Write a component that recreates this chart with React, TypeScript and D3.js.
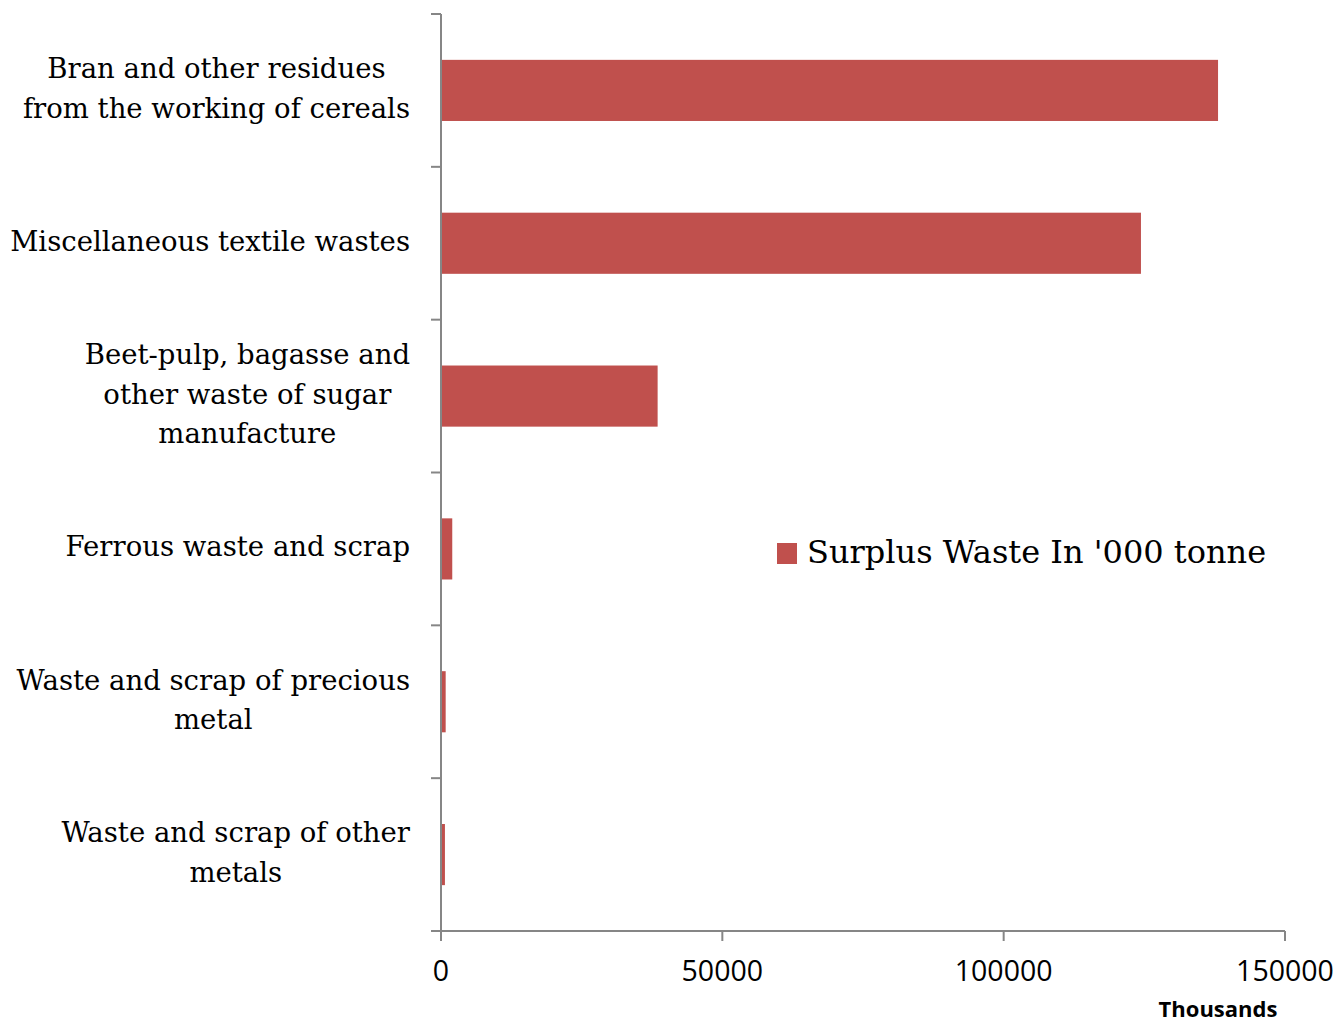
import React from "react";
import * as d3 from "d3";

const categories: string[][] = [
  ["Bran and other residues", "from the working of cereals"],
  ["Miscellaneous textile wastes"],
  ["Beet-pulp, bagasse and", "other waste of sugar", "manufacture"],
  ["Ferrous waste and scrap"],
  ["Waste and scrap of precious", "metal"],
  ["Waste and scrap of other", "metals"],
];
const values: number[] = [138100, 124400, 38500, 2000, 830, 700];
const xTicks: number[] = [0, 50000, 100000, 150000];
const seriesName = "Surplus Waste In '000 tonne";
const unitLabel = "Thousands";

const W = 1337;
const H = 1024;
const left = 441;
const right = 1285;
const top = 14;
const bottom = 931;
const barColor = "#C0504D";
const axisColor = "#868686";
const serif = "'DejaVu Serif', serif";
const sans = "'Open Sans', sans-serif";
const labelSize = 27.5;
const labelRight = 410;

// measure label widths so multi-line labels can be centred inside a right-aligned block
function measure(text: string, font: string): number {
  if (typeof document === "undefined") return text.length * labelSize * 0.5;
  const c = document.createElement("canvas");
  const ctx = c.getContext("2d");
  if (!ctx) return text.length * labelSize * 0.5;
  ctx.font = font;
  return ctx.measureText(text).width;
}

export default function App() {
  const x = d3.scaleLinear().domain([0, 150000]).range([left, right]);
  const ids = categories.map((_, i) => String(i));
  const y = d3
    .scaleBand<string>()
    .domain(ids)
    .range([top, bottom])
    .paddingInner(0.6)
    .paddingOuter(0.3);
  const step = y.step();
  const boundaries = d3.range(categories.length + 1).map((i) => top + i * step);
  const lineH = 39.5;
  const font = `${labelSize}px 'DejaVu Serif', serif`;

  return (
    <svg width={W} height={H} style={{ position: "absolute", left: 0, top: 0, background: "#fff" }}>
      {/* bars */}
      {values.map((v, i) => (
        <rect
          key={i}
          x={x(0)}
          y={y(ids[i])}
          width={x(v) - x(0)}
          height={y.bandwidth()}
          fill={barColor}
        />
      ))}
      {/* category axis */}
      <line x1={left} x2={left} y1={top} y2={bottom} stroke={axisColor} strokeWidth={2} />
      {boundaries.map((b, i) => (
        <line key={i} x1={left - 10} x2={left} y1={b} y2={b} stroke={axisColor} strokeWidth={2} />
      ))}
      {categories.map((lines, i) => {
        const cy = (y(ids[i]) as number) + y.bandwidth() / 2 - 2.5;
        const startY = cy - ((lines.length - 1) * lineH) / 2;
        const blockW = Math.max(...lines.map((l) => measure(l, font)));
        const cx = labelRight - blockW / 2;
        return (
          <text
            key={i}
            fontFamily={serif}
            fontSize={labelSize}
            fill="#000"
            textAnchor="middle"
            dominantBaseline="central"
          >
            {lines.map((l, j) => (
              <tspan key={j} x={cx} y={startY + j * lineH}>
                {l}
              </tspan>
            ))}
          </text>
        );
      })}
      {/* value axis */}
      <line x1={left - 10} x2={right} y1={bottom} y2={bottom} stroke={axisColor} strokeWidth={2} />
      {xTicks.map((t) => (
        <g key={t}>
          <line x1={x(t)} x2={x(t)} y1={bottom} y2={bottom + 10} stroke={axisColor} strokeWidth={2} />
          <text
            x={x(t)}
            y={970}
            fontFamily={sans}
            fontSize={28.5}
            textAnchor="middle"
            dominantBaseline="central"
            fill="#000"
          >
            {t}
          </text>
        </g>
      ))}
      <text
        x={1218}
        y={1008}
        fontFamily={sans}
        fontSize={22}
        fontWeight="bold"
        textAnchor="middle"
        dominantBaseline="central"
        fill="#000"
      >
        {unitLabel}
      </text>
      {/* legend */}
      <rect x={777} y={543} width={20} height={21} fill={barColor} />
      <text x={807} y={552} fontFamily={serif} fontSize={32} dominantBaseline="central" fill="#000">
        {seriesName}
      </text>
    </svg>
  );
}
